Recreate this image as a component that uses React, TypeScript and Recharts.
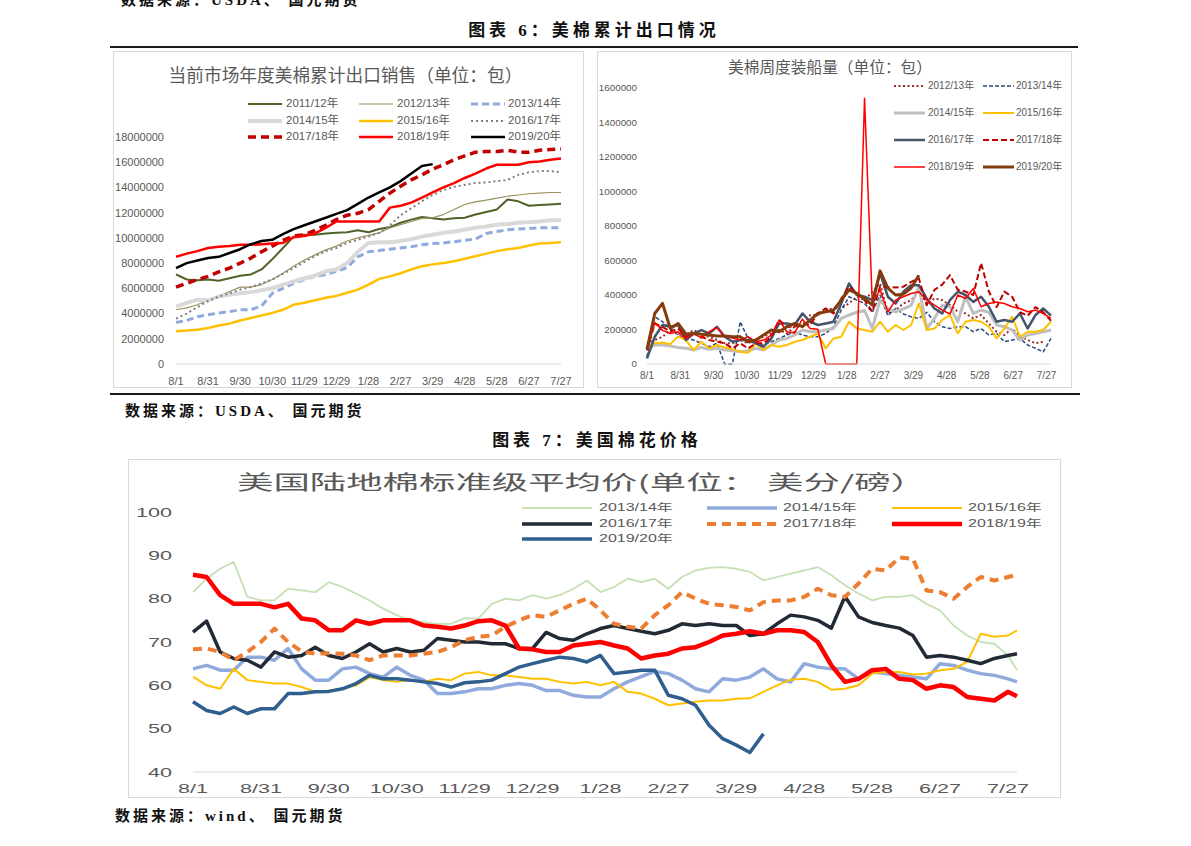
import React from 'react';
import { LineChart, Line, XAxis, YAxis } from 'recharts';

const FONT = "'Liberation Sans', 'Noto Sans CJK SC', sans-serif";
const CJK = "'Noto Sans CJK SC', 'Liberation Sans', sans-serif";
const SERIF_BOLD = "'Liberation Serif', 'Noto Sans CJK SC', serif";
const TICK_COLOR = '#595959';

// x axis of all three charts: days after 8/1, one label every 30 days
const dateTicks = [0, 30, 60, 90, 120, 150, 180, 210, 240, 270, 300, 330, 360];
const dateLabels = ['8/1', '8/31', '9/30', '10/30', '11/29', '12/29', '1/28', '2/27', '3/29', '4/28', '5/28', '6/27', '7/27'];
const fmtDate = (v: number) => dateLabels[dateTicks.indexOf(v)] ?? '';

// ---------- chart 1: cumulative export sales (million bales, every 10 days) ----------
const exportDays = [0, 10, 20, 30, 40, 50, 60, 70, 80, 90, 100, 110, 120, 130, 140, 150, 160, 170, 180, 190, 200, 210, 220, 230, 240, 250, 260, 270, 280, 290, 300, 310, 320, 330, 340, 350, 360];
const exportTicks = [0, 2000000, 4000000, 6000000, 8000000, 10000000, 12000000, 14000000, 16000000, 18000000];
const exp1112 = [7.1, 6.7, 6.65, 6.7, 6.6, 6.8, 7.0, 7.1, 7.5, 8.3, 9.2, 10.1, 10.25, 10.25, 10.35, 10.4, 10.45, 10.6, 10.45, 10.7, 10.85, 11.2, 11.45, 11.65, 11.55, 11.45, 11.55, 11.6, 11.85, 12.05, 12.25, 13.05, 12.9, 12.55, 12.6, 12.65, 12.7];
const exp1213 = [4.3, 4.45, 4.7, 5.05, 5.35, 5.75, 6.1, 6.1, 6.3, 6.7, 7.2, 7.75, 8.25, 8.65, 9.05, 9.35, 9.75, 10.0, 10.2, 10.4, 10.8, 11.05, 11.3, 11.55, 11.6, 11.85, 12.25, 12.65, 12.85, 13.0, 13.15, 13.3, 13.4, 13.5, 13.55, 13.6, 13.6];
const exp1314 = [3.3, 3.45, 3.75, 3.9, 4.05, 4.15, 4.3, 4.3, 4.6, 5.6, 6.0, 6.4, 6.7, 6.95, 7.1, 7.35, 7.65, 8.5, 8.9, 9.0, 9.1, 9.2, 9.3, 9.45, 9.55, 9.6, 9.7, 9.8, 9.9, 10.35, 10.5, 10.65, 10.7, 10.75, 10.8, 10.8, 10.8];
const exp1415 = [4.55, 4.85, 5.1, 5.05, 5.35, 5.5, 5.6, 5.7, 5.85, 6.0, 6.3, 6.55, 6.8, 7.0, 7.35, 7.5, 8.0, 8.9, 9.6, 9.65, 9.65, 9.75, 9.9, 10.1, 10.25, 10.4, 10.5, 10.65, 10.8, 10.9, 11.05, 11.1, 11.2, 11.25, 11.3, 11.4, 11.4];
const exp1516 = [2.6, 2.65, 2.72, 2.85, 3.05, 3.2, 3.45, 3.65, 3.85, 4.05, 4.3, 4.7, 4.85, 5.05, 5.25, 5.4, 5.65, 5.9, 6.3, 6.75, 6.95, 7.2, 7.5, 7.75, 7.9, 8.0, 8.15, 8.35, 8.55, 8.75, 8.95, 9.1, 9.2, 9.4, 9.55, 9.6, 9.65];
const exp1617 = [3.6, 4.0, 4.5, 5.0, 5.35, 5.6, 5.9, 6.1, 6.4, 6.7, 7.15, 7.6, 8.1, 8.55, 8.95, 9.2, 9.6, 9.85, 10.1, 10.4, 11.0, 11.8, 12.35, 12.9, 13.4, 13.8, 14.05, 14.2, 14.35, 14.4, 14.5, 14.6, 15.0, 15.2, 15.3, 15.3, 15.2];
const exp1718 = [6.1, 6.4, 6.7, 6.95, 7.3, 7.6, 8.0, 8.4, 8.9, 9.35, 9.8, 10.15, 10.25, 10.6, 11.0, 11.45, 11.8, 11.95, 12.25, 12.9, 13.55, 14.1, 14.6, 15.0, 15.45, 15.8, 16.2, 16.5, 16.8, 16.85, 16.85, 16.95, 16.8, 16.8, 16.95, 17.0, 17.05];
const exp1819 = [8.5, 8.75, 8.95, 9.2, 9.3, 9.35, 9.45, 9.45, 9.5, 9.55, 9.6, 10.05, 10.15, 10.35, 10.8, 11.3, 11.3, 11.3, 11.3, 11.3, 12.4, 12.55, 12.8, 13.2, 13.6, 14.0, 14.35, 14.75, 15.1, 15.5, 15.8, 15.8, 15.8, 16.0, 16.05, 16.2, 16.3];
const exp1920 = [7.6, 8.0, 8.2, 8.4, 8.5, 8.8, 9.1, 9.5, 9.75, 9.85, 10.3, 10.7, 11.0, 11.3, 11.6, 11.9, 12.2, 12.7, 13.2, 13.6, 14.0, 14.5, 15.1, 15.7, 15.85];

// ---------- chart 2: weekly shipments (thousand bales, weekly) ----------
const shipDays = [0, 7, 14, 21, 28, 35, 42, 49, 56, 63, 70, 77, 84, 91, 98, 105, 112, 119, 126, 133, 140, 147, 154, 161, 168, 175, 182, 189, 196, 203, 210, 217, 224, 231, 238, 245, 252, 259, 266, 273, 280, 287, 294, 301, 308, 315, 322, 329, 336, 343, 350, 357, 364];
const shipTicks = [0, 200000, 400000, 600000, 800000, 1000000, 1200000, 1400000, 1600000];
const ship1213 = [120, 139, 158, 197, 177, 168, 197, 168, 158, 139, 120, 120, 139, 120, 139, 158, 177, 197, 177, 216, 216, 284, 284, 312, 322, 322, 351, 390, 370, 419, 467, 293, 312, 351, 370, 419, 351, 380, 370, 341, 303, 293, 264, 284, 235, 187, 168, 206, 158, 139, 120, 129];
const ship1314 = [42, 274, 245, 206, 168, 148, 139, 120, 100, 120, 0, 0, 245, 148, 129, 110, 129, 148, 168, 187, 168, 158, 158, 177, 216, 312, 390, 370, 351, 300, 400, 280, 322, 290, 274, 264, 300, 245, 216, 206, 216, 216, 187, 206, 168, 177, 129, 139, 148, 110, 91, 71, 148];
const ship1415 = [91, 110, 110, 104, 96, 91, 81, 96, 85, 91, 81, 77, 71, 77, 91, 81, 110, 139, 148, 168, 197, 187, 187, 197, 206, 264, 284, 300, 310, 206, 370, 320, 303, 320, 340, 448, 206, 264, 340, 332, 245, 390, 293, 312, 300, 226, 216, 197, 139, 168, 177, 187, 197];
const ship1516 = [100, 120, 125, 115, 160, 139, 81, 129, 91, 110, 96, 85, 71, 65, 120, 81, 110, 100, 110, 129, 139, 158, 177, 91, 148, 158, 245, 206, 197, 187, 245, 187, 226, 197, 226, 351, 197, 206, 255, 284, 177, 245, 255, 245, 216, 148, 206, 274, 158, 187, 187, 197, 245];
const ship1617 = [33, 158, 226, 216, 226, 139, 177, 197, 177, 216, 158, 129, 139, 139, 120, 100, 149, 235, 235, 226, 293, 245, 226, 235, 245, 351, 467, 400, 390, 370, 525, 390, 351, 419, 457, 457, 380, 322, 293, 370, 419, 400, 360, 390, 332, 245, 255, 245, 293, 206, 284, 322, 280];
const ship1718 = [80, 235, 215, 187, 206, 158, 177, 158, 139, 129, 120, 91, 120, 90, 120, 120, 158, 255, 216, 216, 235, 226, 293, 322, 293, 380, 448, 409, 370, 303, 448, 445, 444, 448, 476, 496, 340, 430, 460, 515, 430, 420, 400, 585, 420, 330, 420, 390, 300, 280, 330, 300, 250];
const ship1819 = [81, 240, 195, 177, 187, 148, 178, 150, 187, 210, 160, 150, 140, 158, 129, 139, 168, 255, 187, 180, 260, 206, 201, 0, 0, 0, 0, 0, 1540, 351, 430, 303, 370, 390, 409, 419, 370, 341, 312, 290, 400, 380, 438, 332, 351, 360, 351, 332, 322, 303, 312, 293, 264];
const ship1920 = [85, 293, 351, 206, 235, 174, 177, 172, 168, 162, 162, 158, 158, 129, 139, 168, 197, 187, 216, 235, 216, 255, 293, 303, 312, 370, 430, 409, 380, 341, 540, 440, 400, 405, 440, 515];

// ---------- chart 3: upland cotton price (cents/lb, every 6 days) ----------
const priceDays = [0, 6, 12, 18, 24, 30, 36, 42, 48, 54, 60, 66, 72, 78, 84, 90, 96, 102, 108, 114, 120, 126, 132, 138, 144, 150, 156, 162, 168, 174, 180, 186, 192, 198, 204, 210, 216, 222, 228, 234, 240, 246, 252, 258, 264, 270, 276, 282, 288, 294, 300, 306, 312, 318, 324, 330, 336, 342, 348, 354, 360, 364];
const priceTicks = [40, 50, 60, 70, 80, 90, 100];
const p1314 = [81.5, 84.6, 86.9, 88.5, 80.4, 79.6, 79.6, 82.3, 81.9, 81.5, 83.8, 82.7, 81.2, 79.6, 77.7, 76.2, 75, 74.6, 74.2, 74.2, 75.5, 75.4, 78.8, 80, 79.6, 80.8, 80, 80.8, 82.3, 84.2, 81.5, 82.7, 84.6, 83.8, 84.6, 82.3, 85, 86.5, 87.1, 87.3, 86.9, 86.2, 84.2, 85, 85.8, 86.5, 87.3, 85.4, 83.1, 81.2, 79.6, 80.4, 80.4, 80.8, 78.8, 77.3, 73.8, 71.5, 70, 69.6, 66.9, 63.5];
const p1415 = [63.8, 64.6, 63.5, 63.5, 66.5, 66.5, 65.8, 68.5, 63.8, 61.2, 61.2, 63.8, 64.2, 62.7, 61.9, 64.2, 62.3, 61.2, 58.1, 58.1, 58.5, 59.2, 59.2, 60, 60.4, 60, 58.8, 58.8, 57.7, 57.3, 57.3, 59.2, 60.8, 62, 63.2, 62.7, 61.2, 59.2, 58.5, 61.5, 61.2, 61.9, 63.8, 61.5, 60.8, 65, 64.2, 63.8, 63.8, 61.5, 63.1, 62.7, 62.3, 61.9, 61.5, 65, 64.6, 63.5, 62.7, 62.3, 61.5, 60.8];
const p1516 = [62, 60, 59.2, 63.8, 61.2, 60.8, 60.4, 60.4, 59.6, 58.5, 58.8, 59.2, 60, 61.9, 61.2, 60.8, 61.2, 60.8, 61.5, 61.2, 62.7, 63.1, 62.3, 62.3, 61.9, 61.5, 61.5, 60.8, 60.4, 60.8, 60, 60.8, 58.5, 58.1, 56.9, 55.4, 55.8, 56.2, 56.5, 56.5, 56.9, 57, 58.5, 60, 61.3, 61.5, 60.8, 59, 59.2, 60, 62.7, 63.1, 63.1, 62.5, 62.7, 63.5, 63.8, 65.4, 71.9, 71.2, 71.5, 72.7];
const p1617 = [72.3, 74.8, 67.7, 66.2, 65.8, 64.2, 67.7, 66.5, 66.9, 68.8, 66.9, 66.2, 67.7, 69.6, 67.7, 68.5, 67.7, 68.1, 70.8, 70.4, 70, 70, 69.6, 69.6, 68.5, 68.5, 72.2, 70.8, 70.4, 71.9, 73.1, 73.8, 73.1, 72.5, 71.9, 72.7, 74.2, 73.8, 74.2, 73.8, 73.8, 71.5, 71.9, 74.2, 76.2, 75.8, 75, 73.2, 80.5, 75.8, 74.5, 73.8, 73.2, 71.5, 66.5, 66.9, 66.5, 65.8, 65, 66.2, 66.9, 67.3];
const p1718 = [68.3, 68.5, 67.7, 65.8, 67.7, 70, 73.1, 70, 67.8, 67.3, 67.4, 67.3, 66.9, 65.8, 66.9, 66.9, 66.9, 67.3, 67.7, 68.8, 70.4, 71.2, 71.5, 73.5, 75, 76.2, 75.8, 77.3, 78.8, 80, 77.3, 74.2, 73.5, 73.1, 76.2, 78.5, 81.5, 80, 78.8, 78.5, 78.1, 77.3, 79.2, 79.6, 79.6, 80.4, 82.3, 80.8, 80.4, 83.5, 86.9, 86.5, 89.5, 89.2, 81.9, 81.5, 80, 82.7, 85, 84.2, 85, 85.5];
const p1819 = [85.5, 85, 80.8, 78.8, 78.8, 78.8, 78, 78.8, 75.4, 75, 72.7, 72.7, 75, 74.2, 75, 75, 75, 73.8, 73.5, 73.1, 73.8, 74.8, 75, 73.8, 68.5, 68.3, 67.7, 67.7, 69.2, 69.6, 70, 69.2, 68.5, 66.2, 66.9, 67.3, 68.5, 68.8, 70, 71.5, 71.9, 72.5, 71.9, 72.7, 72.7, 72.3, 70, 64.6, 60.8, 61.5, 63.5, 63.8, 61.5, 61.2, 59.2, 60, 59.6, 57.3, 56.9, 56.5, 58.5, 57.5];
const p1920 = [56.2, 54.2, 53.5, 55, 53.5, 54.6, 54.6, 58.1, 58.1, 58.5, 58.6, 59.2, 60.4, 62.3, 61.5, 61.5, 61.2, 60.8, 60.4, 59.6, 60.6, 60.8, 61.2, 62.7, 64.2, 65, 65.8, 66.5, 66.2, 65.4, 66.9, 62.7, 63.1, 63.5, 63.5, 57.7, 56.9, 55.4, 50.8, 47.7, 46.2, 44.5, 48.8];

type Series = { key: string; name: string; values: number[]; color: string; width: number; dash?: string };

const exportSeries: Series[] = [
  { key: 's1112', name: '2011/12年', values: exp1112, color: '#4f6228', width: 2 },
  { key: 's1213', name: '2012/13年', values: exp1213, color: '#9c8f62', width: 1.2 },
  { key: 's1314', name: '2013/14年', values: exp1314, color: '#8faadc', width: 3, dash: '7 4' },
  { key: 's1415', name: '2014/15年', values: exp1415, color: '#d9d9d9', width: 4 },
  { key: 's1516', name: '2015/16年', values: exp1516, color: '#ffc000', width: 2.5 },
  { key: 's1617', name: '2016/17年', values: exp1617, color: '#7f7f7f', width: 2, dash: '2 3' },
  { key: 's1718', name: '2017/18年', values: exp1718, color: '#c00000', width: 3.5, dash: '8 5' },
  { key: 's1819', name: '2018/19年', values: exp1819, color: '#ff0000', width: 2.5 },
  { key: 's1920', name: '2019/20年', values: exp1920, color: '#000000', width: 2.5 },
];

const shipSeries: Series[] = [
  { key: 's1213', name: '2012/13年', values: ship1213, color: '#a02b2b', width: 2, dash: '2 2.5' },
  { key: 's1314', name: '2013/14年', values: ship1314, color: '#2f4b7c', width: 1.5, dash: '4 2' },
  { key: 's1415', name: '2014/15年', values: ship1415, color: '#bfbfbf', width: 3 },
  { key: 's1516', name: '2015/16年', values: ship1516, color: '#ffc000', width: 2 },
  { key: 's1617', name: '2016/17年', values: ship1617, color: '#44546a', width: 2.5 },
  { key: 's1718', name: '2017/18年', values: ship1718, color: '#c00000', width: 2, dash: '6 3' },
  { key: 's1819', name: '2018/19年', values: ship1819, color: '#ff0000', width: 1.5 },
  { key: 's1920', name: '2019/20年', values: ship1920, color: '#843c0c', width: 3 },
];

const priceSeries: Series[] = [
  { key: 'p1314', name: '2013/14年', values: p1314, color: '#c5e0b4', width: 1.8 },
  { key: 'p1415', name: '2014/15年', values: p1415, color: '#8faadc', width: 3.5 },
  { key: 'p1516', name: '2015/16年', values: p1516, color: '#ffc000', width: 2 },
  { key: 'p1617', name: '2016/17年', values: p1617, color: '#222a35', width: 3.5 },
  { key: 'p1718', name: '2017/18年', values: p1718, color: '#ed7d31', width: 4, dash: '9 6' },
  { key: 'p1819', name: '2018/19年', values: p1819, color: '#ff0000', width: 4.5 },
  { key: 'p1920', name: '2019/20年', values: p1920, color: '#2e5f8e', width: 3.5 },
];

function buildRows(days: number[], series: Series[], scale: number) {
  return days.map((day, i) => {
    const row: Record<string, number | null> = { day };
    series.forEach((s) => {
      const v = s.values[i];
      row[s.key] = v == null ? null : v * scale;
    });
    return row;
  });
}

const exportRows = buildRows(exportDays, exportSeries, 1000000);
const shipRows = buildRows(shipDays, shipSeries, 1000);
const priceRows = buildRows(priceDays, priceSeries, 1);

const renderLines = (series: Series[]) =>
  series.map((s) => (
    <Line
      key={s.key}
      type="linear"
      dataKey={s.key}
      stroke={s.color}
      strokeWidth={s.width}
      strokeDasharray={s.dash}
      strokeLinejoin="round"
      dot={false}
      activeDot={false}
      connectNulls={false}
      isAnimationActive={false}
    />
  ));

const STRETCH = 1.6;

const StretchTick = (props: any) => {
  const { x, y, payload, textAnchor, fmt } = props;
  return (
    <g transform={`translate(${x},${y}) scale(${STRETCH},1)`}>
      <text x={0} y={0} dy="0.35em" textAnchor={textAnchor} fill={TICK_COLOR} fontSize={13.5} fontFamily={FONT}>
        {fmt(payload.value)}
      </text>
    </g>
  );
};

function ChartLegend({ items, cols, xs, textXs, ys, lineLen, fontSize, stretch = 1 }: {
  items: Series[]; cols: number; xs: number[]; textXs: number[]; ys: number[]; lineLen: number; fontSize: number; stretch?: number;
}) {
  return (
    <>
      {items.map((it, i) => {
        const col = i % cols;
        const row = Math.floor(i / cols);
        const y = ys[row];
        return (
          <React.Fragment key={it.key}>
            <svg style={{ position: 'absolute', left: xs[col], top: y - 5, overflow: 'visible' }} width={lineLen} height={10}>
              <line x1={0} y1={5} x2={lineLen} y2={5} stroke={it.color} strokeWidth={it.width} strokeDasharray={it.dash} />
            </svg>
            <div
              style={{
                position: 'absolute',
                left: textXs[col],
                top: y - fontSize * 0.6,
                fontSize,
                lineHeight: `${fontSize * 1.2}px`,
                color: TICK_COLOR,
                fontFamily: FONT,
                whiteSpace: 'nowrap',
                transform: `scaleX(${stretch})`,
                transformOrigin: 'left center',
              }}
            >
              {it.name}
            </div>
          </React.Fragment>
        );
      })}
    </>
  );
}

const boxStyle = (left: number, top: number, width: number, height: number): React.CSSProperties => ({
  position: 'absolute',
  left,
  top,
  width,
  height,
  boxShadow: 'inset 0 0 0 1px #d9d9d9',
  background: '#fff',
});

const centered = (left: number, top: number, extra: React.CSSProperties): React.CSSProperties => ({
  position: 'absolute',
  left,
  top,
  whiteSpace: 'nowrap',
  transform: 'translate(-50%, -50%)',
  lineHeight: 1.2,
  ...extra,
});

const pageText = (left: number, centerY: number, size: number): React.CSSProperties => ({
  position: 'absolute',
  left,
  top: centerY - size * 0.6,
  fontSize: size,
  lineHeight: `${size * 1.2}px`,
  fontFamily: SERIF_BOLD,
  fontWeight: 'bold',
  letterSpacing: 3,
  whiteSpace: 'nowrap',
  color: '#111',
});

export default function App() {
  return (
    <div style={{ position: 'absolute', left: 0, top: 0, width: 1191, height: 846, overflow: 'hidden', background: '#fff' }}>
      <div style={pageText(121, 0, 15)}>数据来源：USDA、 国元期货</div>

      <div style={centered(594, 31, { fontSize: 17, fontFamily: SERIF_BOLD, fontWeight: 'bold', letterSpacing: 4, color: '#111' })}>
        图表 6：美棉累计出口情况
      </div>
      <div style={{ position: 'absolute', left: 110, top: 45.5, width: 968, height: 2, background: '#1a1a1a' }} />

      {/* cumulative export sales */}
      <div style={boxStyle(113, 51, 471, 337)}>
        <LineChart width={471} height={337} data={exportRows} margin={{ top: 86, right: 23, bottom: 0, left: 0 }}>
          <XAxis
            type="number"
            dataKey="day"
            domain={[0, 360]}
            ticks={dateTicks}
            interval={0}
            tickFormatter={fmtDate}
            axisLine={{ stroke: '#d9d9d9' }}
            tickLine={false}
            tickSize={0}
            tickMargin={13}
            height={24}
            tick={{ fontSize: 11, fill: TICK_COLOR, fontFamily: FONT }}
          />
          <YAxis
            type="number"
            domain={[0, 18000000]}
            ticks={exportTicks}
            interval={0}
            width={63}
            axisLine={false}
            tickLine={false}
            tickSize={0}
            tickMargin={12}
            tickFormatter={(v: number) => String(v)}
            tick={{ fontSize: 11, fill: TICK_COLOR, fontFamily: FONT }}
          />
          {renderLines(exportSeries)}
        </LineChart>
      </div>
      <div style={centered(345.5, 75, { fontSize: 17.7, fontFamily: CJK, color: TICK_COLOR })}>
        当前市场年度美棉累计出口销售（单位：包）
      </div>
      <ChartLegend items={exportSeries} cols={3} xs={[248, 359, 471]} textXs={[286, 397, 508]} ys={[104, 120.7, 136.7]} lineLen={34} fontSize={11.5} />

      {/* weekly shipments */}
      <div style={boxStyle(597, 51, 475, 337)}>
        <LineChart width={475} height={337} data={shipRows} margin={{ top: 37, right: 21, bottom: 0, left: 0 }}>
          <XAxis
            type="number"
            dataKey="day"
            domain={[0, 364]}
            ticks={dateTicks}
            interval={0}
            tickFormatter={fmtDate}
            axisLine={{ stroke: '#d9d9d9' }}
            tickLine={false}
            tickSize={0}
            tickMargin={8}
            height={24}
            tick={{ fontSize: 10, fill: TICK_COLOR, fontFamily: FONT }}
          />
          <YAxis
            type="number"
            domain={[0, 1600000]}
            ticks={shipTicks}
            interval={0}
            width={50}
            axisLine={false}
            tickLine={false}
            tickSize={0}
            tickMargin={10}
            tickFormatter={(v: number) => String(v)}
            tick={{ fontSize: 9.8, fill: TICK_COLOR, fontFamily: FONT }}
          />
          {renderLines(shipSeries)}
        </LineChart>
      </div>
      <div style={centered(830, 66.7, { fontSize: 15.7, fontFamily: CJK, color: TICK_COLOR })}>
        美棉周度装船量（单位：包）
      </div>
      <ChartLegend items={shipSeries} cols={2} xs={[894, 983]} textXs={[928, 1016]} ys={[86, 113.3, 140.3, 167.3]} lineLen={31} fontSize={10} />

      <div style={{ position: 'absolute', left: 110, top: 392.5, width: 970, height: 2.5, background: '#1a1a1a' }} />
      <div style={pageText(125, 411, 15)}>数据来源：USDA、 国元期货</div>
      <div style={centered(597, 441, { fontSize: 17, fontFamily: SERIF_BOLD, fontWeight: 'bold', letterSpacing: 4, color: '#111' })}>
        图表 7：美国棉花价格
      </div>

      {/* upland cotton price */}
      <div style={boxStyle(128, 459, 933, 339)}>
        <LineChart width={933} height={339} data={priceRows} margin={{ top: 53, right: 44, bottom: 0, left: 0 }}>
          <XAxis
            type="number"
            dataKey="day"
            domain={[0, 364]}
            ticks={dateTicks}
            interval={0}
            axisLine={{ stroke: '#d9d9d9' }}
            tickLine={false}
            tickSize={0}
            tickMargin={16}
            height={26}
            tick={(p: any) => <StretchTick {...p} fmt={fmtDate} />}
          />
          <YAxis
            type="number"
            domain={[40, 100]}
            ticks={priceTicks}
            interval={0}
            width={65}
            axisLine={false}
            tickLine={false}
            tickSize={0}
            tickMargin={21}
            tick={(p: any) => <StretchTick {...p} fmt={(v: number) => String(v)} />}
          />
          {renderLines(priceSeries)}
        </LineChart>
      </div>
      <div style={{ ...centered(582, 482, { fontSize: 20, fontFamily: CJK, color: TICK_COLOR }), transform: 'translate(-50%, -50%) scaleX(1.82)' }}>
        美国陆地棉标准级平均价(单位： 美分/磅）
      </div>
      <ChartLegend items={priceSeries} cols={3} xs={[522, 707, 892]} textXs={[599, 783, 968]} ys={[508, 524, 539]} lineLen={70} fontSize={10} stretch={STRETCH} />

      <div style={pageText(115, 816, 15)}>数据来源：wind、 国元期货</div>
    </div>
  );
}
